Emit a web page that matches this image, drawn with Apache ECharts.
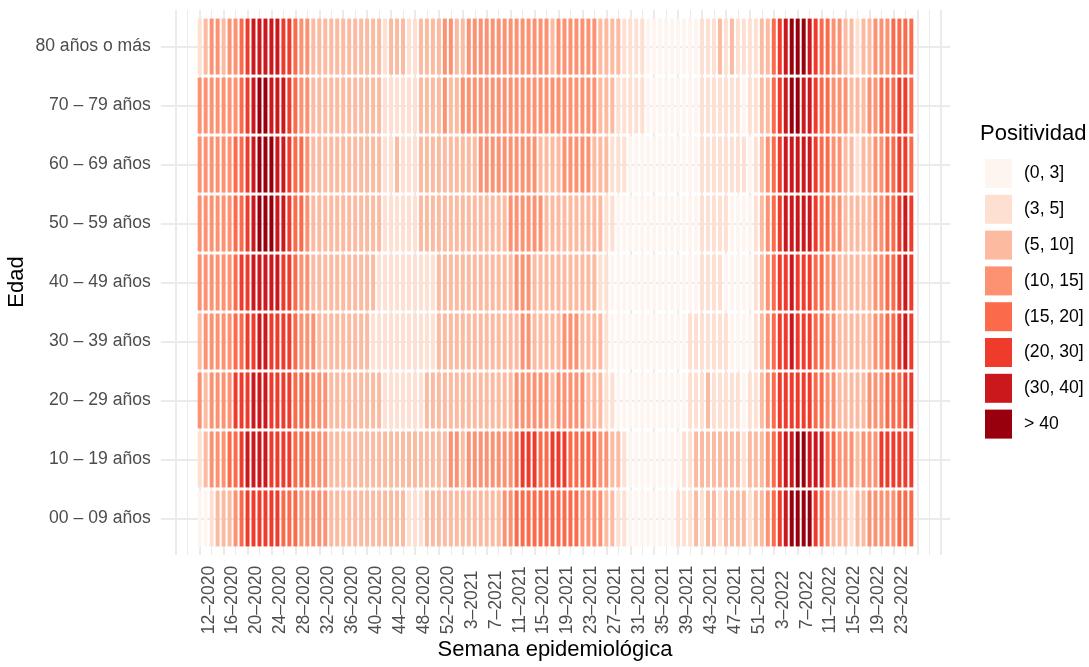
<!DOCTYPE html>
<html>
<head>
<meta charset="utf-8">
<script src="https://cdn.jsdelivr.net/npm/echarts@6/dist/echarts.min.js"></script>
<style>
html, body { margin: 0; padding: 0; background: #fff; }
#container { width: 1089px; height: 667px; }
</style>
</head>
<body>
<div id="container"></div>
<script>
'use strict';
// age groups, bottom to top
var ageGroups = ['00 – 09 años', '10 – 19 años', '20 – 29 años', '30 – 39 años', '40 – 49 años',
    '50 – 59 años', '60 – 69 años', '70 – 79 años', '80 años o más'];
var classLabels = ['(0, 3]', '(3, 5]', '(5, 10]', '(10, 15]', '(15, 20]', '(20, 30]', '(30, 40]', '> 40'];
var classColors = ['#FFF5F0', '#FEE0D2', '#FCBBA1', '#FC9272', '#FB6A4A', '#EF3B2C', '#CB181D', '#99000D'];
// labelled weeks, one every 4 columns starting at column 0 (12-2020)
var tickWeeks = ['12–2020', '16–2020', '20–2020', '24–2020', '28–2020', '32–2020', '36–2020', '40–2020',
    '44–2020', '48–2020', '52–2020', '3–2021', '7–2021', '11–2021', '15–2021', '19–2021', '23–2021',
    '27–2021', '31–2021', '35–2021', '39–2021', '43–2021', '47–2021', '51–2021', '3–2022', '7–2022',
    '11–2022', '15–2022', '19–2022', '23–2022'];

// positivity class (index into classLabels) per week, 12-2020 .. 26-2022
var a00 = [0,0,1,2,2,2,3,4,5,5, 5,5,5,5,4,4,4,3,3,3, 3,3,2,2,2,2,2,2,2,2,
           2,2,2,2,2,1,1,1,2,2, 2,2,2,2,2,2,2,2,2,2, 2,3,3,4,4,4,4,4,4,4,
           4,4,4,4,3,3,3,3,2,2, 1,1,0,0,0,0,0,0,0,0, 1,1,1,2,1,2,2,1,2,2,
           2,2,1,2,2,3,4,5,6,7, 7,7,7,5,4,3,2,2,2,1, 2,2,3,3,3,3,3,4,4,4];
var a10 = [1,2,3,3,3,4,4,5,6,6, 6,6,5,5,5,5,4,4,4,3, 3,3,2,2,2,2,2,2,2,2,
           2,2,2,2,2,2,2,2,2,2, 2,2,3,3,2,3,3,3,3,3, 3,3,3,4,5,5,5,4,4,5,
           5,5,4,4,4,4,4,3,3,2, 2,1,0,0,0,0,0,0,0,0, 0,1,1,2,2,2,2,2,2,2,
           2,1,2,2,2,3,4,5,6,6, 7,7,6,6,6,4,4,3,3,3, 2,3,3,3,5,5,5,5,5,5];
var a20 = [3,2,3,3,3,3,5,5,5,6, 6,6,5,5,5,5,4,4,4,3, 3,3,2,2,2,2,2,2,2,2,
           2,1,1,1,1,1,1,1,2,2, 2,2,2,2,2,2,2,2,2,2, 2,2,2,3,3,3,3,3,3,2,
           3,3,3,3,3,2,2,2,1,1, 0,0,0,0,0,0,0,0,0,0, 0,0,1,1,1,2,1,1,1,1,
           1,0,1,1,2,3,4,5,5,5, 5,5,5,4,4,3,3,2,2,2, 2,2,3,3,3,4,4,4,5,5];
var a30 = [2,3,3,3,3,3,4,4,5,5, 6,6,5,5,5,5,4,3,3,3, 2,2,2,2,2,2,2,2,2,1,
           1,1,1,1,1,1,1,1,1,1, 2,2,2,2,2,2,2,2,2,2, 2,2,2,2,3,3,2,2,2,2,
           2,3,3,3,2,2,2,2,1,0, 0,0,0,0,0,0,0,0,0,0, 0,0,1,1,1,1,1,1,1,0,
           0,0,0,1,2,3,4,5,5,6, 5,5,5,4,4,3,3,2,2,2, 2,2,2,3,3,4,4,5,6,5];
var a40 = [3,3,3,3,3,3,4,5,5,6, 6,6,6,6,5,5,4,3,3,2, 2,2,2,2,2,2,2,2,2,2,
           1,1,1,1,1,1,1,1,1,1, 2,2,2,2,2,2,2,2,2,2, 2,2,2,3,3,3,2,2,2,2,
           2,2,2,2,2,2,2,1,1,0, 0,0,0,0,0,0,0,0,0,0, 0,0,0,0,1,1,1,1,0,0,
           0,0,0,1,2,3,4,5,5,6, 5,5,5,4,4,3,3,2,2,2, 2,2,2,3,3,4,4,5,6,5];
var a50 = [3,3,3,3,3,3,4,4,5,6, 7,7,7,6,6,5,4,4,3,2, 2,2,2,2,2,2,2,2,2,2,
           2,1,1,1,1,1,1,2,2,2, 2,2,2,2,2,2,2,2,2,2, 2,2,3,3,3,3,3,3,2,2,
           2,2,2,2,2,2,2,2,1,1, 0,0,0,0,0,0,0,0,0,0, 0,0,0,0,1,1,1,1,1,0,
           0,0,0,1,2,3,4,5,6,6, 6,6,6,5,4,4,3,3,2,2, 2,2,2,3,3,4,4,5,6,5];
var a60 = [3,3,3,3,3,3,4,4,5,6, 7,7,7,6,6,5,4,4,3,2, 2,2,2,2,2,2,2,2,2,2,
           2,1,1,2,1,1,1,2,2,2, 2,2,2,2,2,2,2,3,3,3, 3,3,3,3,3,3,3,2,2,2,
           2,3,3,3,3,3,2,2,2,1, 1,1,0,0,0,0,0,0,0,0, 0,0,0,0,1,1,1,1,1,1,
           1,1,0,1,2,3,4,5,6,6, 6,6,6,5,4,4,3,3,2,2, 1,2,2,3,3,4,4,5,5,4];
var a70 = [3,3,3,3,3,3,3,4,5,6, 7,7,6,6,6,5,4,3,3,2, 2,2,2,2,2,2,2,2,2,2,
           2,1,1,1,1,1,1,2,2,2, 2,3,2,2,3,3,3,3,3,3, 3,3,3,3,3,3,3,3,3,3,
           3,3,3,3,3,3,3,2,2,2, 1,1,1,1,1,0,0,0,0,0, 0,0,0,0,1,1,1,1,1,1,
           1,0,1,1,2,2,4,5,6,7, 7,6,6,5,4,4,3,3,3,2, 2,2,3,3,4,4,4,5,5,4];
var a80 = [1,2,3,3,2,3,3,4,5,6, 6,6,6,6,5,5,4,3,3,2, 2,2,2,2,2,2,2,2,2,2,
           2,1,2,2,2,1,1,2,2,2, 2,3,3,2,2,3,3,3,3,3, 3,3,3,3,3,3,3,3,3,2,
           3,3,3,3,3,3,3,2,2,2, 2,1,1,1,1,0,0,0,0,0, 0,0,0,0,1,1,1,2,1,2,
           1,1,1,1,2,2,4,5,6,7, 7,7,6,5,4,4,3,3,2,2, 1,2,2,3,3,3,4,4,4,4];

var rows = [a00, a10, a20, a30, a40, a50, a60, a70, a80];
var cells = [];
rows.forEach(function (row, r) {
    row.forEach(function (v, c) { cells.push([c, r, v]); });
});

var tickPos = tickWeeks.map(function (t, k) { return k * 4; });
var majorX = [-4].concat(tickPos, [120, 124]);
var minorX = [-2].concat(tickPos.map(function (p) { return p + 2; }), [122]);

var dom = document.getElementById('container');
var myChart = echarts.init(dom);
var font = '"Liberation Sans", Arial, sans-serif';
var grey = '#EBEBEB';

function vLines(list, w) {
    return list.map(function (v) { return { xAxis: v, lineStyle: { color: grey, width: w, type: 'solid' } }; });
}

var option = {
    animation: false,
    backgroundColor: '#fff',
    textStyle: { fontFamily: font },
    grid: { left: 160.8, right: 138.8, top: 10, bottom: 112, containLabel: false },
    xAxis: {
        type: 'value', min: -6.5, max: 125.5,
        axisLine: { show: false }, axisTick: { show: false }, splitLine: { show: false },
        axisLabel: {
            customValues: tickPos, rotate: 90, margin: 45,
            align: 'center', verticalAlign: 'top',
            color: '#4D4D4D', fontSize: 17.6, fontFamily: font,
            formatter: function (v) { return tickWeeks[Math.round(v / 4)]; }
        }
    },
    yAxis: {
        type: 'value', min: -0.62, max: 8.62,
        axisLine: { show: false }, axisTick: { show: false }, splitLine: { show: false },
        axisLabel: {
            customValues: [0, 1, 2, 3, 4, 5, 6, 7, 8], margin: 10,
            color: '#4D4D4D', fontSize: 17.6, fontFamily: font,
            formatter: function (v) { return ageGroups[Math.round(v)]; }
        }
    },
    visualMap: {
        type: 'piecewise', seriesIndex: 0, dimension: 2,
        orient: 'vertical', inverse: true, align: 'left', left: 970, top: 144,
        itemWidth: 27, itemHeight: 29, itemGap: 6.8, itemSymbol: 'rect', textGap: 12,
        selectedMode: false, hoverLink: false,
        textStyle: { color: '#000', fontSize: 17.6, fontFamily: font },
        pieces: classLabels.map(function (l, i) { return { value: i, label: l, color: classColors[i] }; })
    },
    graphic: [
        { type: 'text', x: 980, y: 134, style: { text: 'Positividad', fontSize: 22, fontFamily: font, fill: '#000', verticalAlign: 'middle' } },
        { type: 'text', x: 17, y: 282, rotation: Math.PI / 2, style: { text: 'Edad', fontSize: 22, fontFamily: font, fill: '#000', align: 'center', verticalAlign: 'middle' } },
        { type: 'text', x: 555, y: 650, style: { text: 'Semana epidemiológica', fontSize: 22, fontFamily: font, fill: '#000', align: 'center', verticalAlign: 'middle' } }
    ],
    series: [{
        type: 'custom',
        z: 2,
        data: cells,
        renderItem: function (params, api) {
            var x = api.value(0), y = api.value(1);
            var p0 = api.coord([x - 0.5, y + 0.5]);
            var p1 = api.coord([x + 0.5, y - 0.5]);
            return {
                type: 'rect',
                shape: { x: p0[0] + 1, y: p0[1] + 1.5, width: p1[0] - p0[0] - 2, height: p1[1] - p0[1] - 3 },
                style: { fill: api.visual('color') }
            };
        },
        markLine: {
            silent: true, symbol: 'none', z: 1, animation: false,
            label: { show: false },
            data: vLines(majorX, 2).concat(vLines(minorX, 1),
                [0, 1, 2, 3, 4, 5, 6, 7, 8].map(function (v) { return { yAxis: v, lineStyle: { color: grey, width: 2, type: 'solid' } }; }))
        }
    }]
};
myChart.setOption(option);
</script>
</body>
</html>
